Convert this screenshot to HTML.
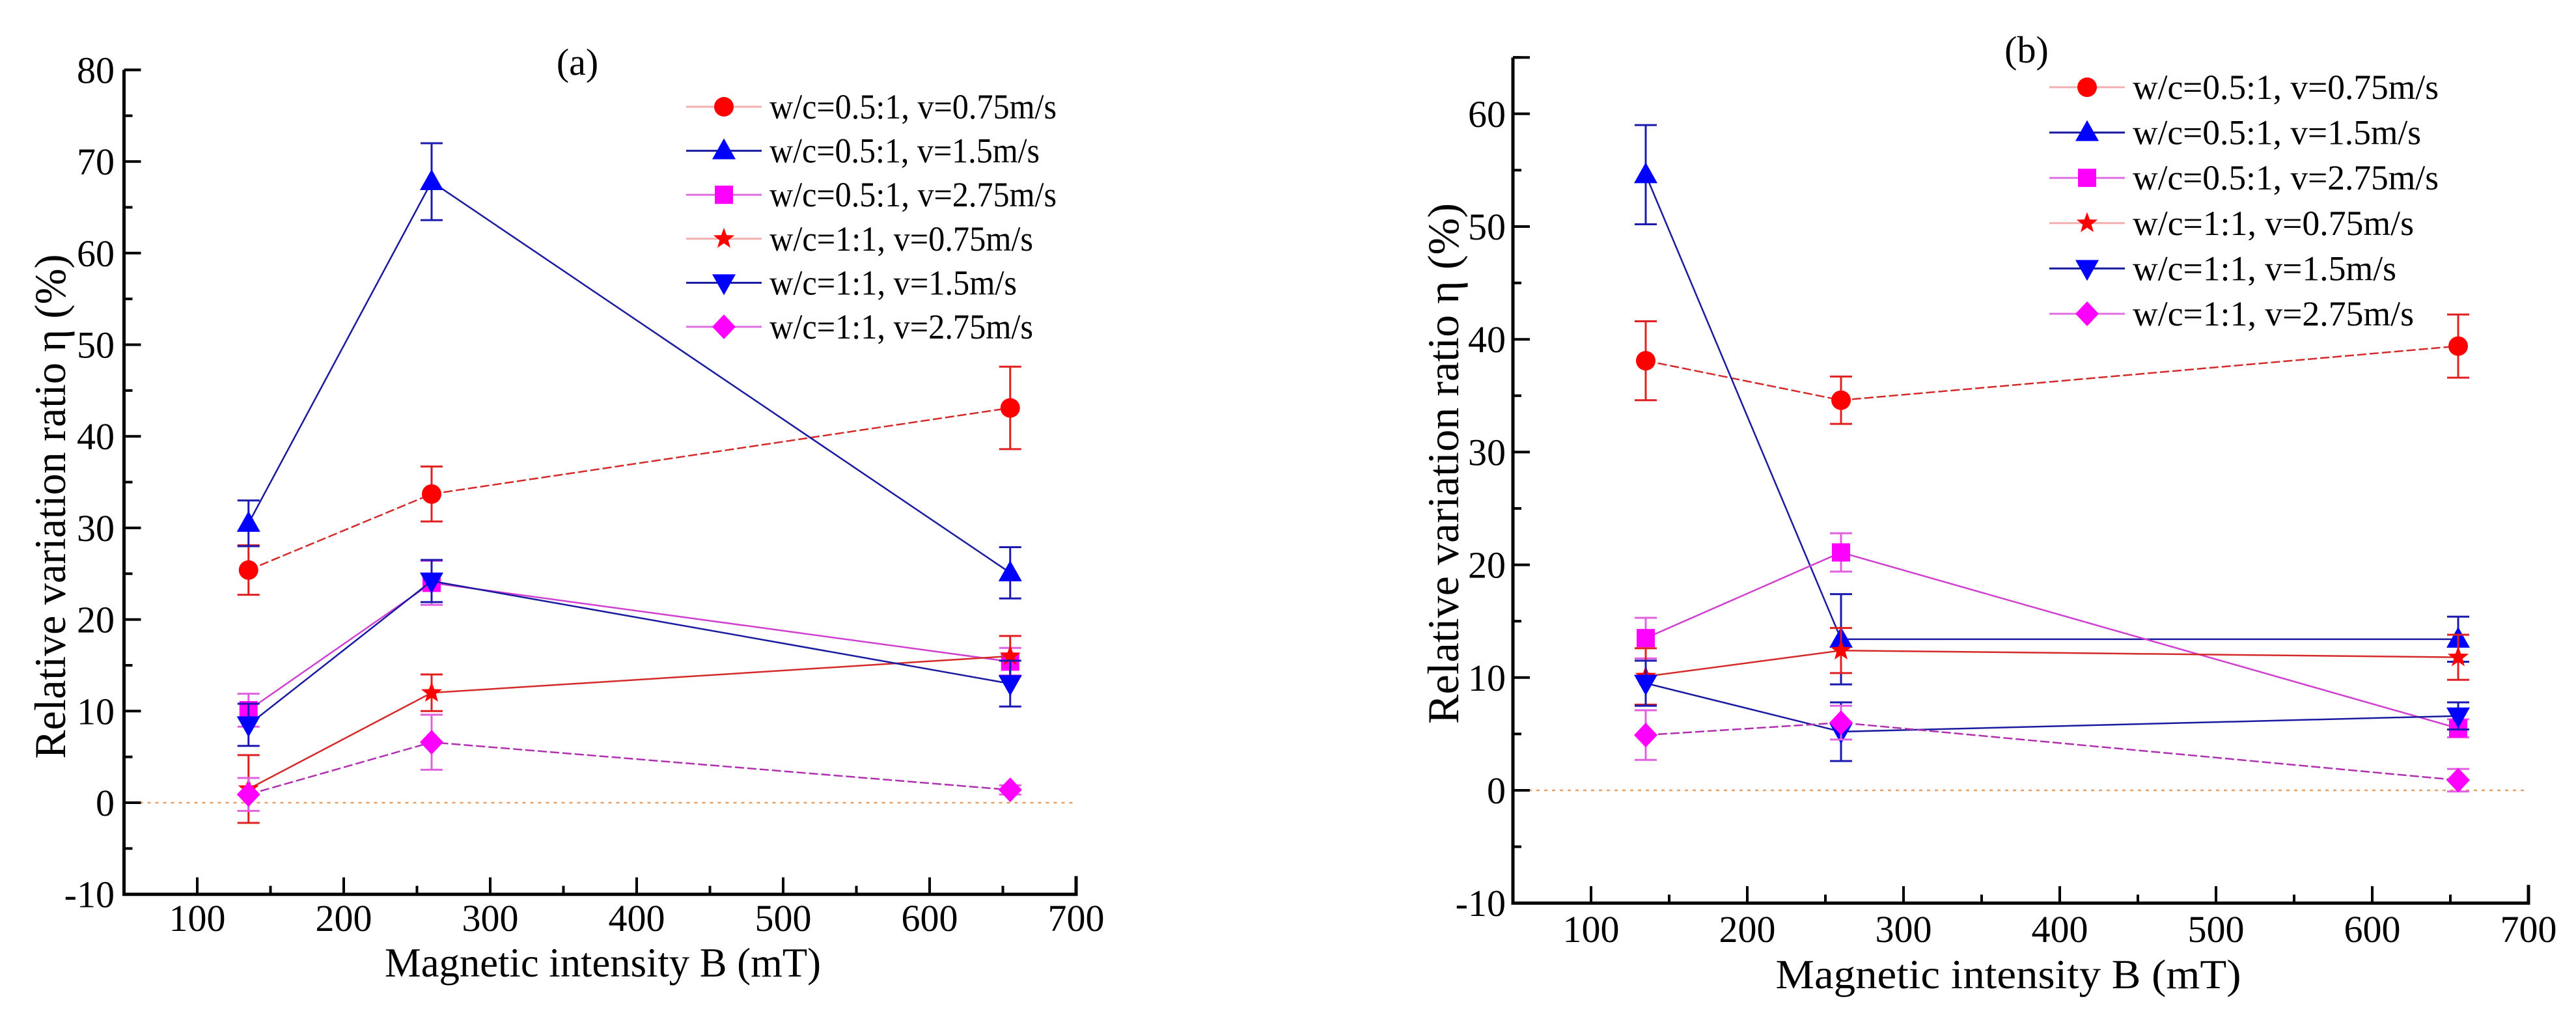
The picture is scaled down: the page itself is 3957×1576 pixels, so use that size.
<!DOCTYPE html>
<html><head><meta charset="utf-8"><style>
html,body{margin:0;padding:0;background:#fff;}
svg{display:block;font-family:"Liberation Serif",serif;}
</style></head><body>
<svg id="chart" width="3957" height="1576" viewBox="0 0 3957 1576" xmlns="http://www.w3.org/2000/svg">
<rect width="3957" height="1576" fill="#fff"/>
</svg>
<script>
const magnets = [135, 260, 655];
const seriesLabels = ["w/c=0.5:1, v=0.75m/s","w/c=0.5:1, v=1.5m/s","w/c=0.5:1, v=2.75m/s","w/c=1:1, v=0.75m/s","w/c=1:1, v=1.5m/s","w/c=1:1, v=2.75m/s"];
const xTicks = [100,200,300,400,500,600,700];
const yTicksA = [-10,0,10,20,30,40,50,60,70,80];
const yTicksB = [-10,0,10,20,30,40,50,60];
// panel (a)
const aS1 = [25.4, 33.7, 43.1]; const aE1 = [2.7, 3.0, 4.5];
const aS2 = [30.5, 67.8, 25.1]; const aE2 = [2.5, 4.2, 2.8];
const aS3 = [10.1, 24.0, 15.4]; const aE3 = [1.8, 2.4, 1.5];
const aS4 = [1.5, 12.0, 16.0];  const aE4 = [3.7, 2.0, 2.2];
const aS5 = [8.5, 24.2, 13.0];  const aE5 = [2.3, 2.3, 2.5];
const aS6 = [0.9, 6.6, 1.4];    const aE6 = [1.8, 3.0, 0.5];
// panel (b)
const bS1 = [38.1, 34.6, 39.4]; const bE1 = [3.5, 2.1, 2.8];
const bS2 = [54.6, 13.4, 13.4]; const bE2 = [4.4, 4.0, 2.0];
const bS3 = [13.5, 21.1, 5.5];  const bE3 = [1.8, 1.7, 0.8];
const bS4 = [10.1, 12.4, 11.8]; const bE4 = [2.5, 2.0, 2.0];
const bS5 = [9.5, 5.2, 6.6];    const bE5 = [2.0, 2.6, 1.2];
const bS6 = [4.9, 6.0, 0.9];    const bE6 = [2.2, 1.5, 1.0];

const NS = "http://www.w3.org/2000/svg";
const svg = document.getElementById("chart");
function mk(tag, attrs, parent){ const e=document.createElementNS(NS,tag); for(const k in attrs) e.setAttribute(k,attrs[k]); (parent||svg).appendChild(e); return e; }

const styles = [
 {mk:"circle", fill:"#ff0000", line:"#d42a2a", dash:"14,5", err:"#e02020", leg:"#f2b0b0"},
 {mk:"tri", fill:"#0000ff", line:"#1a1aa0", dash:"", err:"#1a1ab0", leg:"#1a1aa0"},
 {mk:"square", fill:"#ff00ff", line:"#d040d0", dash:"", err:"#e060e0", leg:"#e070e0"},
 {mk:"star", fill:"#ff0000", line:"#d42a2a", dash:"", err:"#e02020", leg:"#f2b0b0"},
 {mk:"dtri", fill:"#0000ff", line:"#1a1aa0", dash:"", err:"#1a1ab0", leg:"#1a1aa0"},
 {mk:"diamond", fill:"#ff00ff", line:"#b030b0", dash:"14,5", err:"#e060e0", leg:"#e070e0"}
];

function marker(g, type, cx, cy, fill){
  let e;
  if(type==="circle") e=mk("circle",{cx:cx,cy:cy,r:15,fill:fill},g);
  else if(type==="square") e=mk("rect",{x:cx-14,y:cy-14,width:28,height:28,fill:fill},g);
  else if(type==="tri") e=mk("polygon",{points:`${cx},${cy-19} ${cx-18},${cy+13} ${cx+18},${cy+13}`,fill:fill},g);
  else if(type==="dtri") e=mk("polygon",{points:`${cx},${cy+19} ${cx-18},${cy-13} ${cx+18},${cy-13}`,fill:fill},g);
  else if(type==="diamond") e=mk("polygon",{points:`${cx},${cy-19} ${cx+18},${cy} ${cx},${cy+19} ${cx-18},${cy}`,fill:fill},g);
  else { let p=[]; for(let i=0;i<10;i++){const r=i%2?7:17; const a=-Math.PI/2+i*Math.PI/5; p.push((cx+r*Math.cos(a)).toFixed(1)+","+(cy+r*Math.sin(a)).toFixed(1));} e=mk("polygon",{points:p.join(" "),fill:fill},g); }
  
  
  return e;
}

function panel(p){
  const g = mk("g",{});
  
  
  const X = v => p.x0 + (v - 100) * p.xs;
  const Y = v => p.y0 - v * p.ys;
  const L = X(50), R = X(700), B = Y(-10), T = Y(p.ymax);
  const z = mk("line",{x1:L,y1:Y(0),x2:R,y2:Y(0),stroke:"#e8a060","stroke-width":2.5,"stroke-dasharray":"5,7"},g);
  
  
  const ax = mk("path",{d:`M${L},${T} L${L},${B} L${R},${B} L${R},${B-28}`,fill:"none",stroke:"#000","stroke-width":5},g);
  
  
  mk("line",{x1:L,y1:T,x2:L+26,y2:T,stroke:"#000","stroke-width":4},g);
  for(const t of xTicks){
    const x=X(t);
    mk("line",{x1:x,y1:B,x2:x,y2:B-26,stroke:"#000","stroke-width":4},g);
    if(t<700) mk("line",{x1:X(t+50),y1:B,x2:X(t+50),y2:B-13,stroke:"#000","stroke-width":4},g);
    const tx = mk("text",{x:x,y:p.xlabY,"font-size":58,"text-anchor":"middle",fill:"#000"},g);
    tx.textContent=t;
    
    
  }
  for(const t of p.yTicks){
    const y=Y(t);
    mk("line",{x1:L,y1:y,x2:L+26,y2:y,stroke:"#000","stroke-width":4},g);
    if(t+5<=p.ymax) mk("line",{x1:L,y1:Y(t+5),x2:L+13,y2:Y(t+5),stroke:"#000","stroke-width":4},g);
    const ty = mk("text",{x:p.ylabX,y:y+20,"font-size":58,"text-anchor":"end",fill:"#000"},g);
    ty.textContent=t;
    
    
  }
  const xt = mk("text",{x:p.xtX,y:p.xtY,"font-size":64,"text-anchor":"middle",fill:"#000",textLength:p.xtLen,lengthAdjust:"spacingAndGlyphs"},g);
  xt.textContent="Magnetic  intensity B (mT)";
  
  
  const yt = mk("text",{x:0,y:0,"font-size":68,"text-anchor":"middle",fill:"#000",textLength:p.ytLen,lengthAdjust:"spacingAndGlyphs",transform:`translate(${p.ytX},${p.ytY}) rotate(-90)`},g);
  yt.textContent="Relative variation ratio η (%)";
  
  
  const pl = mk("text",{x:p.plX,y:p.plY,"font-size":58,"text-anchor":"middle",fill:"#000"},g);
  pl.textContent=p.label;
  
  
  p.series.forEach((s,i)=>{
    const st=styles[i];
    const sg=mk("g",{},g);
    
    
    const pts=magnets.map((m,j)=>X(m)+","+Y(s[j])).join(" ");
    const ln=mk("polyline",{points:pts,fill:"none",stroke:st.line,"stroke-width":2.5,"stroke-dasharray":st.dash},sg);
    
    
    magnets.forEach((m,j)=>{
      const x=X(m), e=p.errs[i][j];
      const eb=mk("path",{d:`M${x},${Y(s[j]+e)} L${x},${Y(s[j]-e)} M${x-17},${Y(s[j]+e)} L${x+17},${Y(s[j]+e)} M${x-17},${Y(s[j]-e)} L${x+17},${Y(s[j]-e)}`,stroke:st.err,"stroke-width":3,fill:"none"},sg);
      
      
      marker(sg, st.mk, x, Y(s[j]), st.fill);
    });
  });
  const lg=mk("g",{},g);
  
  
  seriesLabels.forEach((lab,i)=>{
    const st=styles[i], y=p.legY+i*p.legDy;
    const eg=mk("g",{},lg);
    
    
    mk("line",{x1:p.legX,y1:y,x2:p.legX+116,y2:y,stroke:st.leg,"stroke-width":3},eg);
    marker(eg, st.mk, p.legX+58, y, st.fill);
    const t=mk("text",{x:p.legX+128,y:y+18,"font-size":54,fill:"#000",textLength:p.legLens[i],lengthAdjust:"spacingAndGlyphs"},eg);
    t.textContent=lab;
  });
}

panel({name:"panel-a", label:"(a)", x0:303, xs:2.25, y0:1233, ys:14.07, ymax:80, yTicks:yTicksA,
  ylabX:176, xlabY:1430, xtX:926, xtY:1500, xtLen:670, ytX:100, ytY:778, ytLen:775, plX:887, plY:115,
  series:[aS1,aS2,aS3,aS4,aS5,aS6], errs:[aE1,aE2,aE3,aE4,aE5,aE6],
  legX:1054, legY:164, legDy:67.6, legLens:[441,415,441,405,380,405]});
panel({name:"panel-b", label:"(b)", x0:2444, xs:2.4, y0:1214, ys:17.32, ymax:65, yTicks:yTicksB,
  ylabX:2313, xlabY:1447, xtX:3085, xtY:1518, xtLen:715, ytX:2240, ytY:712, ytLen:800, plX:3113, plY:96,
  series:[bS1,bS2,bS3,bS4,bS5,bS6], errs:[bE1,bE2,bE3,bE4,bE5,bE6],
  legX:3148, legY:134, legDy:69.6, legLens:[470,443,470,432,405,432]});
</script>
</body></html>
